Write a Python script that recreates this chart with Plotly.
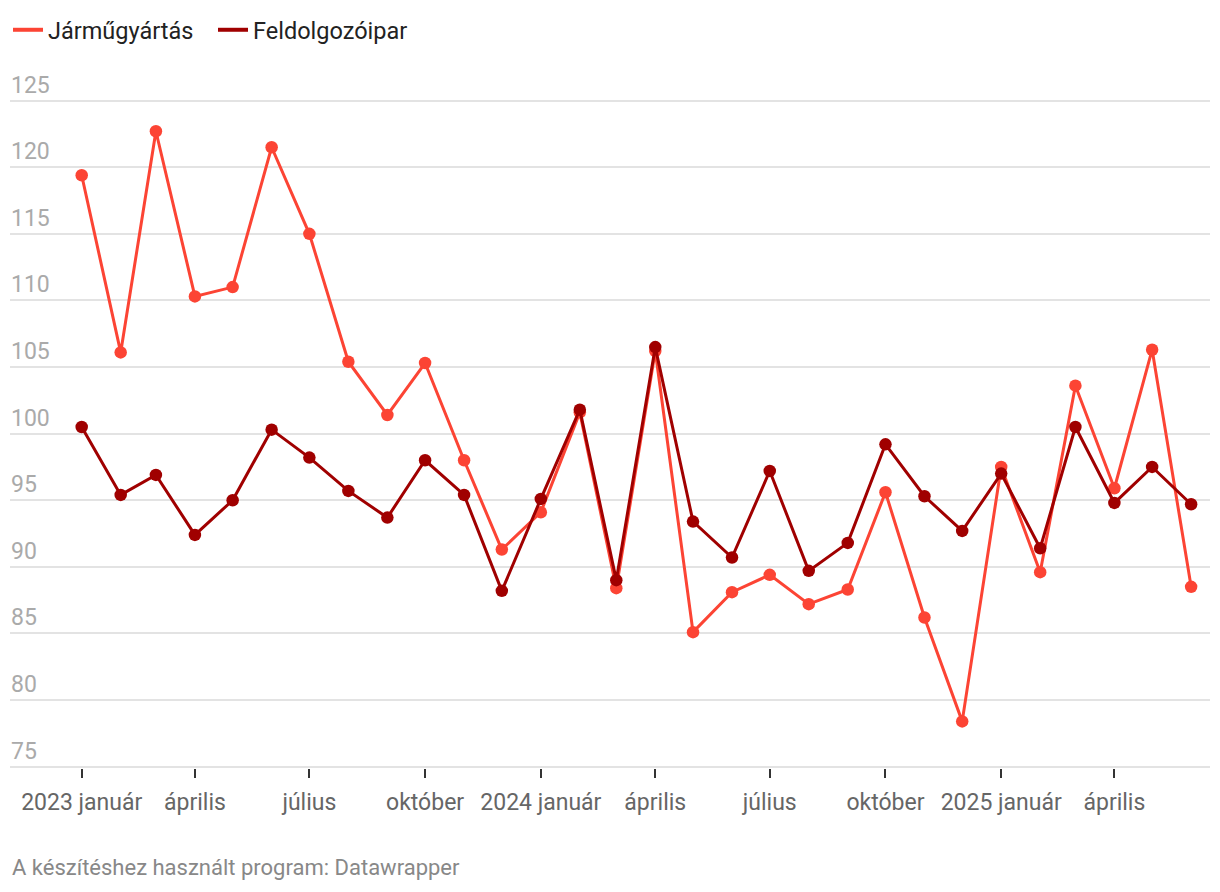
import plotly.graph_objects as go
import pandas as pd

months = pd.date_range("2023-01-01", "2025-06-01", freq="MS")

jarmugyartas = [119.4, 106.1, 122.7, 110.3, 111.0, 121.5, 115.0, 105.4, 101.4, 105.3,
                98.0, 91.3, 94.1, 101.6, 88.4, 106.2, 85.1, 88.1, 89.4, 87.2,
                88.3, 95.6, 86.2, 78.4, 97.5, 89.6, 103.6, 95.9, 106.3, 88.5]
feldolgozoipar = [100.5, 95.4, 96.9, 92.4, 95.0, 100.3, 98.2, 95.7, 93.7, 98.0,
                  95.4, 88.2, 95.1, 101.8, 89.0, 106.5, 93.4, 90.7, 97.2, 89.7,
                  91.8, 99.2, 95.3, 92.7, 97.0, 91.4, 100.5, 94.8, 97.5, 94.7]

tick_dates = ["2023-01-01", "2023-04-01", "2023-07-01", "2023-10-01",
              "2024-01-01", "2024-04-01", "2024-07-01", "2024-10-01",
              "2025-01-01", "2025-04-01"]
tick_text = ["2023 január", "április", "július", "október",
             "2024 január", "április", "július", "október",
             "2025 január", "április"]
y_ticks = [75, 80, 85, 90, 95, 100, 105, 110, 115, 120, 125]

c_light = "#fc4434"
c_dark = "#a00000"

fig = go.Figure()
fig.add_trace(go.Scatter(x=months, y=jarmugyartas, mode="lines+markers",
                         line=dict(color=c_light, width=3),
                         marker=dict(color=c_light, size=12.5),
                         showlegend=False, name="Járműgyártás"))
fig.add_trace(go.Scatter(x=months, y=feldolgozoipar, mode="lines+markers",
                         line=dict(color=c_dark, width=3),
                         marker=dict(color=c_dark, size=12.5),
                         showlegend=False, name="Feldolgozóipar"))
# legend-only entries
fig.add_trace(go.Scatter(x=[None], y=[None], mode="lines",
                         line=dict(color=c_light, width=4), name="Járműgyártás"))
fig.add_trace(go.Scatter(x=[None], y=[None], mode="lines",
                         line=dict(color=c_dark, width=4), name="Feldolgozóipar"))

plot_top, plot_bottom = 46.3, 760.3  # figure coords
fig.update_layout(
    width=1220, height=892,
    margin=dict(l=2, r=18, t=plot_top, b=892 - plot_bottom, autoexpand=False),
    paper_bgcolor="white", plot_bgcolor="white",
    font=dict(family="Roboto", size=18, color="#333"),
    legend=dict(orientation="h", x=0, y=1, xref="container", yref="container",
                xanchor="left", yanchor="top",
                font=dict(size=23.5, color="#222"),
                itemwidth=30, tracegroupgap=0,
                entrywidth=160, entrywidthmode="pixels",
                bgcolor="rgba(0,0,0,0)"),
    xaxis=dict(type="date",
               range=["2022-11-05", "2025-06-16"],
               tickvals=tick_dates, ticktext=tick_text,
               showgrid=False, zeroline=False, showline=False,
               ticks="outside", ticklen=9, tickwidth=2, tickcolor="#333",
               ticklabelstandoff=4,
               tickfont=dict(size=23, color="#666"),
               fixedrange=True),
    yaxis=dict(range=[74.9, 128.5], tickvals=y_ticks,
               ticklabelposition="inside top",
               ticklabelstandoff=-2,
               showgrid=True, gridcolor="#e3e3e3", gridwidth=2,
               zeroline=False, showline=False, ticks="",
               tickfont=dict(size=23, color="#aaa"),
               fixedrange=True),
)
plot_h = plot_bottom - plot_top
fig.add_annotation(text="A készítéshez használt program: Datawrapper",
                   x=0, y=-((868 - 8) - plot_bottom) / plot_h,
                   xref="paper", yref="paper", showarrow=False,
                   xanchor="left", yanchor="middle",
                   font=dict(size=22, color="#888"))

fig.write_html("out.html")
